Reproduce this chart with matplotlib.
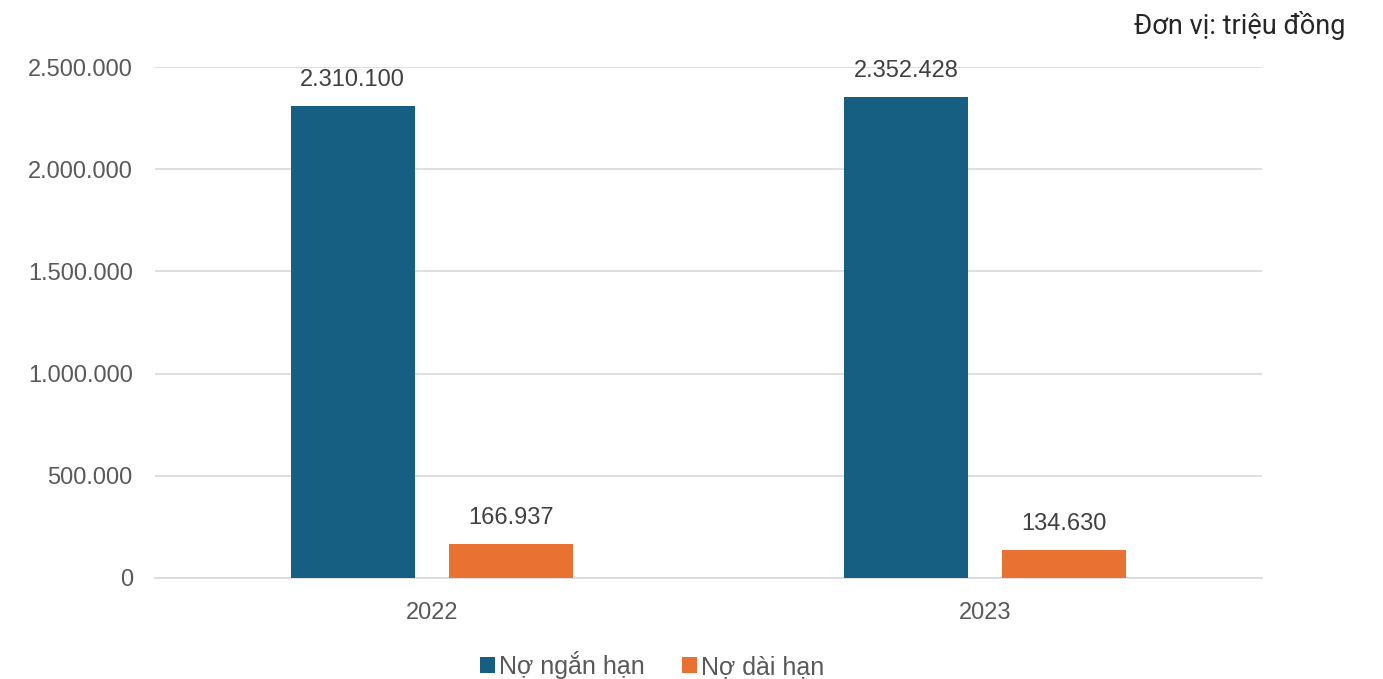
import matplotlib
matplotlib.use("Agg")
import matplotlib.pyplot as plt
import numpy as np

years = ["2022", "2023"]
series_names = ["Nợ ngắn hạn", "Nợ dài hạn"]
short_term = [2310100, 2352428]
long_term = [166937, 134630]
yticks = [0, 500000, 1000000, 1500000, 2000000, 2500000]
colors = ["#175F82", "#E97132"]

def fmt(v):
    return f"{v:,}".replace(",", ".")

plt.rcParams['font.family'] = ['Liberation Sans', 'DejaVu Sans']
fig = plt.figure(figsize=(13.83, 6.79), dpi=100)
ax = fig.add_axes([155/1383, 1-578/679, 1107/1383, (578-67)/679])

x = np.arange(len(years))
w = 0.224
off = 0.143
b1 = ax.bar(x - off, short_term, w, color=colors[0], label=series_names[0], zorder=3)
b2 = ax.bar(x + off, long_term, w, color=colors[1], label=series_names[1], zorder=3)

for bars, vals in ((b1, short_term), (b2, long_term)):
    for r, v in zip(bars, vals):
        ax.annotate(fmt(v), (r.get_x() + r.get_width()/2, v), xytext=(0, 11),
                    textcoords="offset points", ha="center", va="bottom",
                    fontsize=17, color="#404040")

ax.set_xlim(-0.5, 1.5)
ax.set_ylim(0, 2500000)
ax.set_yticks(yticks)
ax.set_yticklabels([fmt(v) for v in yticks], fontsize=17, color="#595959")
ax.set_xticks(x)
ax.set_xticklabels(years, fontsize=17, color="#595959")
ax.tick_params(axis="y", length=0, pad=16)
ax.tick_params(axis="x", length=0, pad=17)
ax.yaxis.grid(True, color="#D9D9D9", linewidth=1.2, zorder=0)
for s in ["top", "right", "left"]:
    ax.spines[s].set_visible(False)
ax.spines["bottom"].set_color("#D9D9D9")
ax.spines["bottom"].set_linewidth(1.2)

leg = fig.legend(loc="center", bbox_to_anchor=(652/1383, 1-665/679), ncol=2,
                 frameon=False, fontsize=18, handlelength=0.6, handleheight=0.6,
                 handletextpad=0.15, columnspacing=1.5, labelcolor="#595959")

fig.text(1345/1383, 1-25/679, "Đơn vị: triệu đồng", ha="right", va="center",
         fontsize=19.5, color="#262626", family=["Roboto", "DejaVu Sans"])

fig.savefig("out.png", dpi=100)
